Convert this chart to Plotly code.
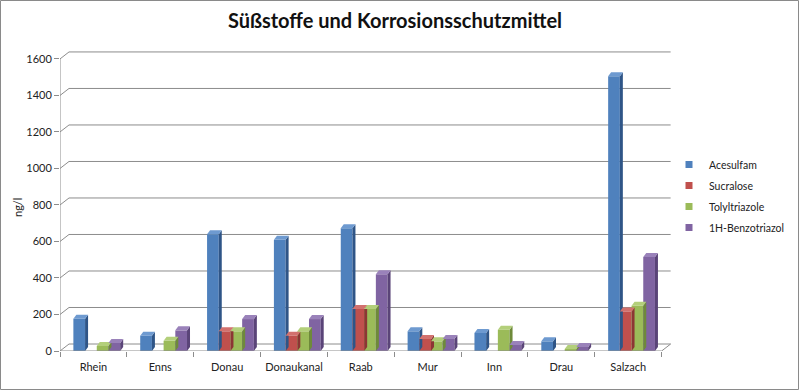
import plotly.graph_objects as go

categories = ["Rhein", "Enns", "Donau", "Donaukanal", "Raab", "Mur", "Inn", "Drau", "Salzach"]
acesulfam = [177, 84, 640, 610, 672, 108, 99, 53, 1505]
sucralose = [None, None, 108, 84, 230, 66, None, None, 217]
tolyltriazole = [28, 56, 108, 108, 230, 53, 117, 11, 248]
benzotriazol = [44, 113, 175, 175, 420, 66, 33, 22, 515]
series_names = ["Acesulfam", "Sucralose", "Tolyltriazole", "1H-Benzotriazol"]
y_ticks = [0, 200, 400, 600, 800, 1000, 1200, 1400, 1600]

series = [acesulfam, sucralose, tolyltriazole, benzotriazol]
front = ["#4F81BD", "#C0504D", "#9BBB59", "#8064A2"]
side = ["#2F5587", "#8C3634", "#6E8A3A", "#5A4478"]
top = ["#6E9AD0", "#D2716E", "#B3CF7A", "#9A82BA"]

W, H = 800, 391
ML, MR, MT, MB = 60, 125, 48, 40
PW, PH = W - ML - MR, H - MT - MB
XR = [-0.5, 8.7]
YR = [0, 1660]
ux = PW / (XR[1] - XR[0])
uy = PH / (YR[1] - YR[0])

bw = 0.175
off0 = -0.30
bdx, bdy = 3 / ux, 4 / uy      # bar depth
gdx, gdy = 9 / ux, 7 / uy      # grid/back-wall depth

FONT = "Lato, Carlito, Calibri, sans-serif"

fig = go.Figure()
shapes = []
grid_col = "#8C8C8C"

# back wall grid lines
for v in y_ticks:
    shapes.append(dict(type="line", xref="x", yref="y", x0=-0.5, y0=v, x1=-0.5 + gdx, y1=v + gdy,
                       line=dict(color=grid_col, width=1), layer="below"))
    shapes.append(dict(type="line", xref="x", yref="y", x0=-0.5 + gdx, y0=v + gdy, x1=8.5 + gdx, y1=v + gdy,
                       line=dict(color=grid_col, width=1), layer="below"))
# floor right edge
shapes.append(dict(type="line", xref="x", yref="y", x0=8.5, y0=0, x1=8.5 + gdx, y1=gdy,
                   line=dict(color=grid_col, width=1), layer="below"))
# axes lines
shapes.append(dict(type="line", xref="x", yref="y", x0=-0.5, y0=0, x1=-0.5, y1=1600,
                   line=dict(color=grid_col, width=1)))
shapes.append(dict(type="line", xref="x", yref="y", x0=-0.5, y0=0, x1=8.5, y1=0,
                   line=dict(color=grid_col, width=1)))

for i, (name, vals) in enumerate(zip(series_names, series)):
    off = off0 + i * bw
    fig.add_trace(go.Bar(
        x=categories, y=vals, name=name, width=bw, offset=off,
        marker=dict(color=front[i], line=dict(width=0)),
        legendgroup=name, showlegend=False,
    ))
    # legend entry with small square marker
    fig.add_trace(go.Scatter(
        x=[None], y=[None], mode="markers", name=name, legendgroup=name,
        marker=dict(symbol="square", size=7, color=front[i]),
    ))
    for j, v in enumerate(vals):
        if v is None:
            continue
        xl = j + off
        xr = xl + bw
        path_side = f"M {xr},0 L {xr},{v} L {xr + bdx},{v + bdy} L {xr + bdx},{bdy} Z"
        path_top = f"M {xl},{v} L {xr},{v} L {xr + bdx},{v + bdy} L {xl + bdx},{v + bdy} Z"
        shapes.append(dict(type="path", xref="x", yref="y", path=path_side,
                           fillcolor=side[i], line=dict(width=0), layer="above"))
        shapes.append(dict(type="path", xref="x", yref="y", path=path_top,
                           fillcolor=top[i], line=dict(width=0), layer="above"))

def px2x(px):
    return (px - ML) / PW
def py2y(py):
    return (H - MB - py) / PH

# outer frame
shapes.append(dict(type="rect", xref="paper", yref="paper",
                   x0=px2x(0.5), x1=px2x(W - 1.5), y0=py2y(H - 1.5), y1=py2y(0.5),
                   line=dict(color="#8A8A8A", width=1), layer="below"))

fig.update_layout(
    width=W, height=H,
    margin=dict(l=ML, r=MR, t=MT, b=MB, pad=0, autoexpand=False),
    paper_bgcolor="white", plot_bgcolor="white",
    barmode="overlay",
    font=dict(family=FONT, size=11, color="#222222"),
    title=dict(text="<b>Süßstoffe und Korrosionsschutzmittel</b>", x=395 / W, xanchor="center",
               y=1 - 21 / H, yanchor="middle", yref="container",
               font=dict(size=20, color="#111111", family=FONT)),
    xaxis=dict(type="category", range=XR, showgrid=False, zeroline=False, showline=False,
               tickson="boundaries", ticks="outside", ticklen=5, tickcolor=grid_col,
               tickangle=0, automargin=False, ticklabelstandoff=8,
               tickfont=dict(size=11), fixedrange=True),
    yaxis=dict(range=YR, tickvals=y_ticks, showgrid=False, zeroline=False, showline=False,
               ticks="outside", ticklen=5, tickcolor=grid_col, tickfont=dict(size=11),
               automargin=False, fixedrange=True),
    legend=dict(x=px2x(669), y=py2y(150), xanchor="left", yanchor="top",
                font=dict(size=10.5), traceorder="grouped", tracegroupgap=2,
                itemwidth=30, bgcolor="rgba(0,0,0,0)"),
    shapes=shapes,
    annotations=[dict(text="ng/l", xref="paper", yref="paper", x=px2x(18), y=py2y(208),
                      xanchor="center", yanchor="middle",
                      textangle=-90, showarrow=False, font=dict(size=11))],
)

fig.write_html("out.html", config={"displayModeBar": False},
               post_script="document.body.style.margin='0';document.body.style.overflow='hidden';")
